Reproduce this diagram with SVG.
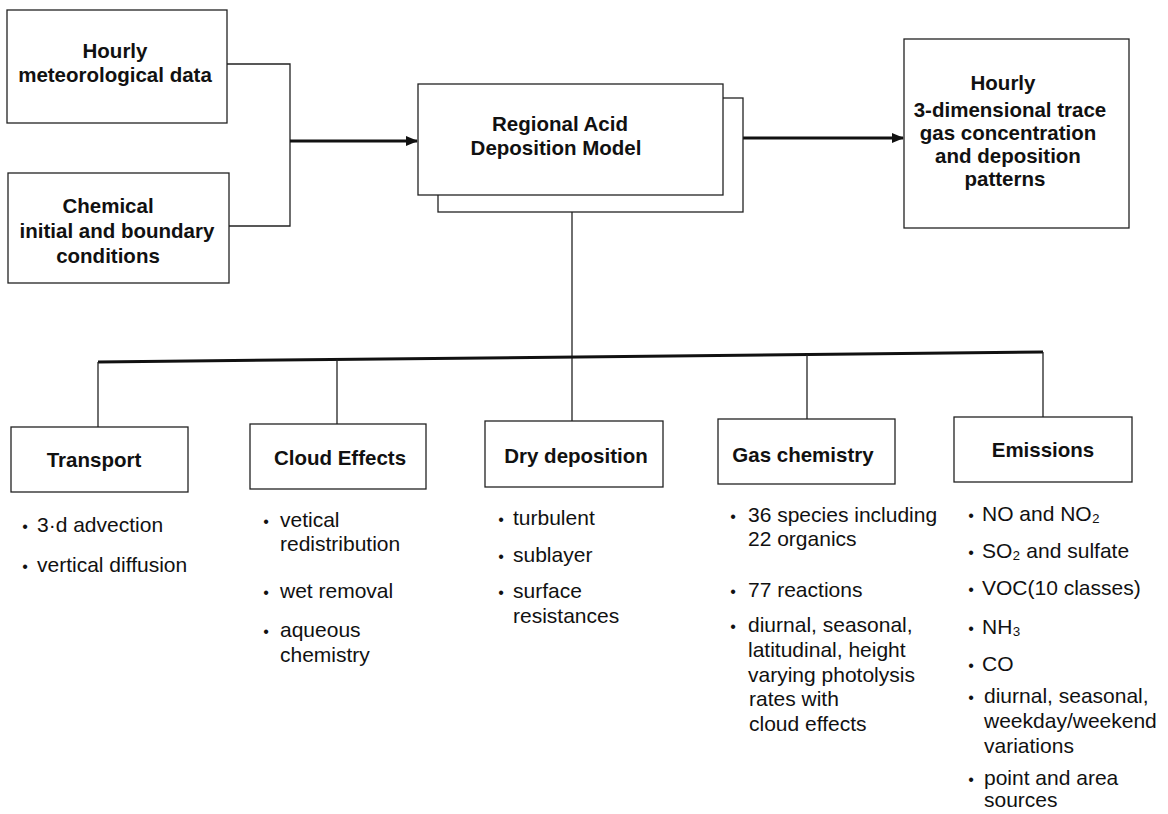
<svg xmlns="http://www.w3.org/2000/svg" width="1168" height="814" viewBox="0 0 1168 814">
<style>
.box{fill:#fff;stroke:#222;stroke-width:1.3}
.h{font-family:"Liberation Sans",Arial,sans-serif;font-weight:bold;font-size:20.5px;fill:#111;text-anchor:middle}
.t{font-family:"Liberation Sans",Arial,sans-serif;font-size:21px;fill:#111}
.b{font-family:"Liberation Sans",Arial,sans-serif;font-size:16px;fill:#111;text-anchor:middle}
.thin{fill:none;stroke:#222;stroke-width:1.3}
.thick{fill:none;stroke:#111;stroke-width:3}
</style>
<defs>
<marker id="arr" markerWidth="12" markerHeight="10" refX="11" refY="5" orient="auto" markerUnits="userSpaceOnUse">
<path d="M0,0 L12,5 L0,10 Z" fill="#111"/>
</marker>
</defs>
<rect width="1168" height="814" fill="#fff"/>

<g id="connectors">
<polyline class="thin" points="227,64 290,64 290,226 229,226"/>
<line class="thick" x1="290" y1="141" x2="417" y2="141" marker-end="url(#arr)"/>
<line class="thick" x1="727" y1="138" x2="903" y2="138" marker-end="url(#arr)"/>
<line class="thin" x1="572" y1="195" x2="572" y2="421"/>
<line class="thick" x1="98" y1="362" x2="1043" y2="352"/>
<line class="thin" x1="98" y1="362" x2="98" y2="427"/>
<line class="thin" x1="337" y1="359.5" x2="337" y2="424"/>
<line class="thin" x1="807" y1="354.5" x2="807" y2="419"/>
<line class="thin" x1="1043" y1="352" x2="1043" y2="417"/>
</g>

<g id="met">
<rect class="box" x="7" y="10" width="220" height="113"/>
<text class="h" x="115" y="58">Hourly</text>
<text class="h" x="115" y="82">meteorological data</text>
</g>

<g id="chem">
<rect class="box" x="8" y="173" width="221" height="110"/>
<text class="h" x="108" y="213">Chemical</text>
<text class="h" x="117" y="238">initial and boundary</text>
<text class="h" x="108" y="263">conditions</text>
</g>

<g id="radm">
<rect class="box" x="438" y="98" width="305" height="114"/>
<rect class="box" x="418" y="84" width="305" height="111"/>
<text class="h" x="560" y="131">Regional Acid</text>
<text class="h" x="556" y="155">Deposition Model</text>
</g>

<g id="output">
<rect class="box" x="904" y="39" width="225" height="189"/>
<text class="h" x="1003" y="90">Hourly</text>
<text class="h" x="1010" y="117">3-dimensional trace</text>
<text class="h" x="1008" y="140">gas concentration</text>
<text class="h" x="1008" y="163">and deposition</text>
<text class="h" x="1005" y="186">patterns</text>
</g>

<g id="transport">
<rect class="box" x="11" y="427" width="177" height="65"/>
<text class="h" x="94" y="467">Transport</text>
<text class="b" x="25" y="532">•</text><text class="t" x="37" y="532">3·d advection</text>
<text class="b" x="25" y="572">•</text><text class="t" x="37" y="572">vertical diffusion</text>
</g>

<g id="cloud">
<rect class="box" x="250" y="424" width="176" height="65"/>
<text class="h" x="340" y="465">Cloud Effects</text>
<text class="b" x="266" y="527">•</text><text class="t" x="280" y="527">vetical</text>
<text class="t" x="280" y="551">redistribution</text>
<text class="b" x="266" y="598">•</text><text class="t" x="280" y="598">wet removal</text>
<text class="b" x="266" y="637">•</text><text class="t" x="280" y="637">aqueous</text>
<text class="t" x="280" y="662">chemistry</text>
</g>

<g id="dry">
<rect class="box" x="485" y="421" width="178" height="66"/>
<text class="h" x="576" y="463">Dry deposition</text>
<text class="b" x="501" y="525">•</text><text class="t" x="513" y="525">turbulent</text>
<text class="b" x="501" y="562">•</text><text class="t" x="513" y="562">sublayer</text>
<text class="b" x="501" y="598">•</text><text class="t" x="513" y="598">surface</text>
<text class="t" x="513" y="623">resistances</text>
</g>

<g id="gas">
<rect class="box" x="718" y="419" width="177" height="65"/>
<text class="h" x="803" y="462">Gas chemistry</text>
<text class="b" x="733" y="522">•</text><text class="t" x="748" y="522">36 species including</text>
<text class="t" x="748" y="546">22 organics</text>
<text class="b" x="733" y="597">•</text><text class="t" x="748" y="597">77 reactions</text>
<text class="b" x="733" y="632">•</text><text class="t" x="748" y="632">diurnal, seasonal,</text>
<text class="t" x="748" y="657">latitudinal, height</text>
<text class="t" x="748" y="682">varying photolysis</text>
<text class="t" x="749" y="706">rates with</text>
<text class="t" x="749" y="731">cloud effects</text>
</g>

<g id="emissions">
<rect class="box" x="954" y="417" width="178" height="65"/>
<text class="h" x="1043" y="457">Emissions</text>
<text class="b" x="971" y="521">•</text><text class="t" x="982" y="521">NO and NO₂</text>
<text class="b" x="971" y="558">•</text><text class="t" x="982" y="558">SO₂ and sulfate</text>
<text class="b" x="971" y="595">•</text><text class="t" x="982" y="595">VOC(10 classes)</text>
<text class="b" x="971" y="634">•</text><text class="t" x="982" y="634">NH₃</text>
<text class="b" x="971" y="671">•</text><text class="t" x="982" y="671">CO</text>
<text class="b" x="971" y="703">•</text><text class="t" x="984" y="703">diurnal, seasonal,</text>
<text class="t" x="984" y="728">weekday/weekend</text>
<text class="t" x="984" y="753">variations</text>
<text class="b" x="971" y="785">•</text><text class="t" x="984" y="785">point and area</text>
<text class="t" x="984" y="807">sources</text>
</g>
</svg>
